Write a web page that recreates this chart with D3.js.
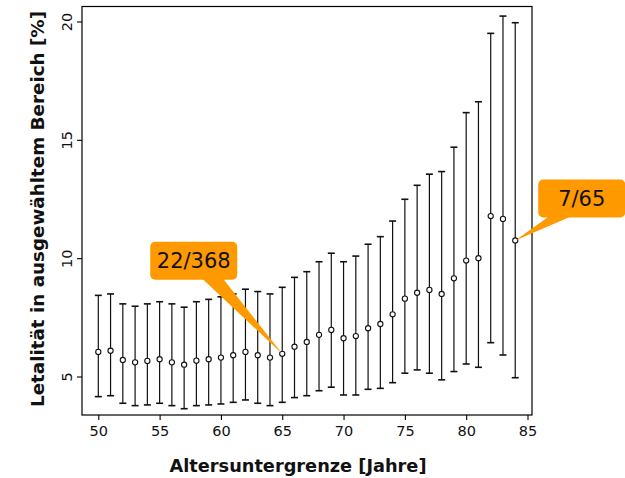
<!DOCTYPE html>
<html><head><meta charset="utf-8">
<script src="https://cdn.jsdelivr.net/npm/d3@7"></script>
<style>body{margin:0;background:#fff}svg{display:block}</style>
</head><body>
<script>
const ages = [50,51,52,53,54,55,56,57,58,59,60,61,62,63,64,65,66,67,68,69,70,71,72,73,74,75,76,77,78,79,80,81,82,83,84];
const rate = [6.06,6.11,5.72,5.62,5.68,5.75,5.62,5.52,5.69,5.75,5.82,5.92,6.06,5.92,5.82,5.98,6.28,6.48,6.78,6.99,6.64,6.73,7.06,7.24,7.65,8.31,8.56,8.68,8.51,9.17,9.92,10.02,11.80,11.68,10.77];
const upper = [8.45,8.51,8.09,7.99,8.09,8.18,8.09,7.95,8.18,8.28,8.39,8.51,8.71,8.61,8.51,8.79,9.21,9.45,9.87,10.23,9.87,10.11,10.61,10.93,11.59,12.51,13.10,13.57,13.68,14.71,16.17,16.63,19.52,20.25,19.97];
const lower = [4.17,4.21,3.89,3.79,3.82,3.89,3.79,3.66,3.79,3.82,3.86,3.93,4.03,3.89,3.79,3.93,4.13,4.21,4.42,4.57,4.24,4.24,4.48,4.52,4.76,5.16,5.30,5.16,4.88,5.23,5.55,5.41,6.45,5.93,4.97];
const xTicks = [50,55,60,65,70,75,80,85];
const yTicks = [5,10,15,20];
const calloutLabels = ["22/368","7/65"];
const calloutAges = [65,84];

const W=625,H=478;
const L=82,R=532,T=6.5,B=415;
const svg=d3.select("body").append("svg").attr("width",W).attr("height",H);
const font="DejaVu Sans, Verdana, sans-serif";

const x=d3.scaleLinear().domain([50,85]).range([98.3,527.5]);
const y=d3.scaleLinear().domain([5,20]).range([377,22]);

// frame
svg.append("rect").attr("x",L).attr("y",T).attr("width",R-L).attr("height",B-T)
  .attr("fill","none").attr("stroke","#000").attr("stroke-width",1.2);

// x axis
const xa=svg.append("g").attr("transform",`translate(0,${B})`)
  .call(d3.axisBottom(x).tickValues(xTicks).tickSize(5).tickPadding(6).tickFormat(d3.format("d")));
xa.select(".domain").remove();
xa.selectAll("line").attr("stroke","#000").attr("stroke-width",1.1);
xa.selectAll("text").attr("font-family",font).attr("font-size",14.5).attr("fill","#111");

// y axis
const ya=svg.append("g").attr("transform",`translate(${L},0)`)
  .call(d3.axisLeft(y).tickValues(yTicks).tickSize(5).tickFormat(d3.format("d")));
ya.select(".domain").remove();
ya.selectAll("line").attr("stroke","#000").attr("stroke-width",1.1);
ya.selectAll("text").attr("font-family",font).attr("font-size",14.5).attr("fill","#111")
  .attr("x",0).attr("dy",0).attr("y",-10)
  .attr("text-anchor","middle")
  .each(function(d){d3.select(this).attr("transform",`translate(0,${y(d)}) rotate(-90)`);});
ya.selectAll(".tick").attr("transform","translate(0,0)");
ya.selectAll(".tick line").attr("y1",d=>y(d)).attr("y2",d=>y(d));

// titles
svg.append("text").attr("x",298).attr("y",472).attr("text-anchor","middle")
  .attr("font-family",font).attr("font-weight","bold").attr("font-size",17.5).attr("fill","#111")
  .attr("textLength",257).attr("lengthAdjust","spacingAndGlyphs")
  .text("Altersuntergrenze [Jahre]");
svg.append("text").attr("transform",`translate(43.5,209) rotate(-90)`).attr("text-anchor","middle")
  .attr("font-family",font).attr("font-weight","bold").attr("font-size",17.5).attr("fill","#111")
  .attr("textLength",396).attr("lengthAdjust","spacingAndGlyphs")
  .text("Letalität in ausgewähltem Bereich [%]");

// error bars
const data=ages.map((a,i)=>({a,r:rate[i],u:upper[i],l:lower[i]}));
const g=svg.append("g").attr("stroke","#111").attr("stroke-width",1.2);
g.selectAll("line.v").data(data).join("line").attr("class","v")
  .attr("x1",d=>x(d.a)).attr("x2",d=>x(d.a)).attr("y1",d=>y(d.u)).attr("y2",d=>y(d.l));
g.selectAll("line.cu").data(data).join("line").attr("class","cu")
  .attr("x1",d=>x(d.a)-3.5).attr("x2",d=>x(d.a)+3.5).attr("y1",d=>y(d.u)).attr("y2",d=>y(d.u)).attr("stroke-width",1.6);
g.selectAll("line.cl").data(data).join("line").attr("class","cl")
  .attr("x1",d=>x(d.a)-3.5).attr("x2",d=>x(d.a)+3.5).attr("y1",d=>y(d.l)).attr("y2",d=>y(d.l)).attr("stroke-width",1.6);
g.selectAll("circle").data(data).join("circle")
  .attr("cx",d=>x(d.a)).attr("cy",d=>y(d.r)).attr("r",2.6).attr("fill","#fff").attr("stroke-width",1.1);

// callouts
const boxes=[{dx:-132,dy:-112,w:87,h:38,p0:-81,p1:-60},{dx:23,dy:-61,w:87,h:38,p0:35,p1:58}];
const orange="#FF9900";
calloutLabels.forEach((lab,i)=>{
  const idx=ages.indexOf(calloutAges[i]);
  const px=x(ages[idx]), py=y(rate[idx]);
  const b=boxes[i];
  const bx=px+b.dx, by=py+b.dy;
  svg.append("path").attr("d",`M${px+b.p0},${by+b.h-2}L${px+b.p1},${by+b.h-2}L${px},${py}Z`).attr("fill",orange);
  svg.append("rect").attr("x",bx).attr("y",by).attr("width",b.w).attr("height",b.h).attr("rx",5).attr("fill",orange);
  svg.append("text").attr("x",bx+b.w/2).attr("y",by+b.h/2+7.5).attr("text-anchor","middle")
    .attr("font-family",font).attr("font-size",21).attr("fill","#111").text(lab);
});
</script>
</body></html>
